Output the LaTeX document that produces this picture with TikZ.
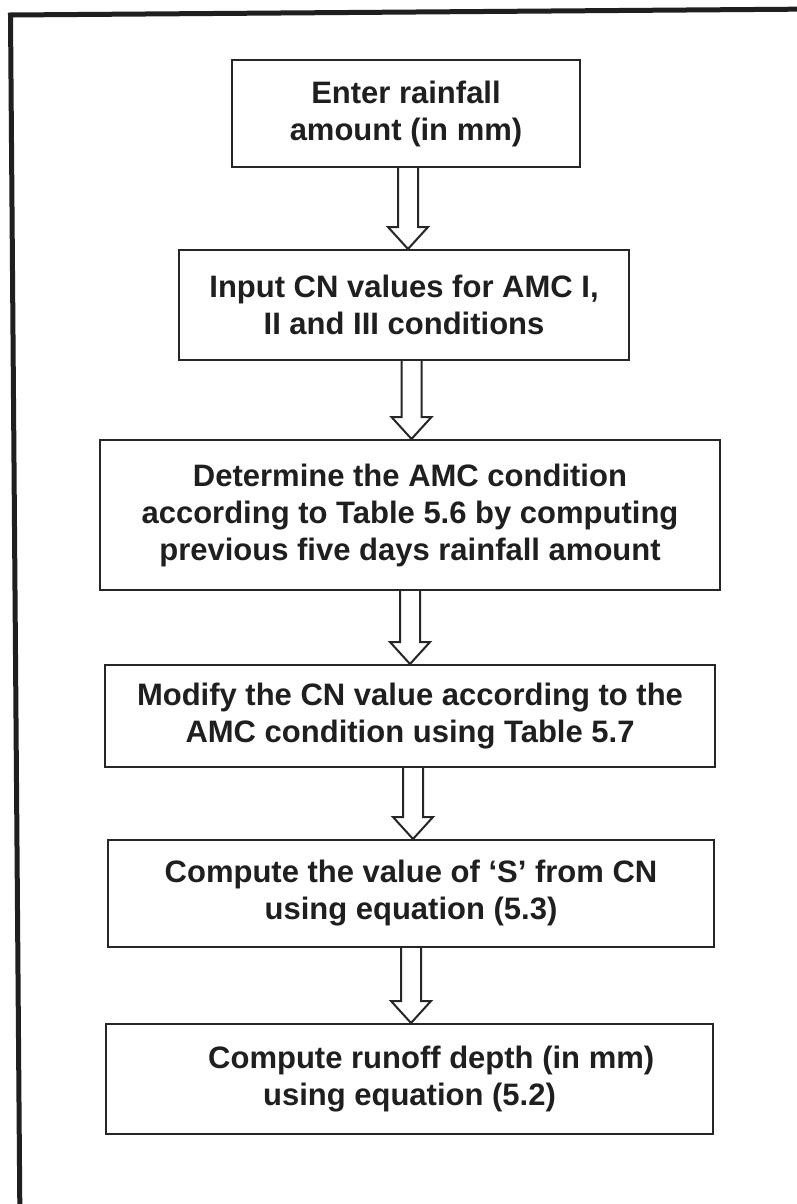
\documentclass[tikz,border=0pt]{standalone}
\usepackage{fontspec}
\setmainfont{Liberation Sans}
\usetikzlibrary{calc}
\tikzset{
  flowbox/.style={draw=black!85, line width=2pt, fill=white, align=center,
    inner sep=0pt, font=\bfseries\fontsize{31}{37}\selectfont, text=black!88},
  hollowarrow/.style={draw=black!85, line width=2pt, fill=white, line join=miter},
  framebox/.style={draw=black!88, line width=5pt},
}
% hollow block arrow from the bottom of #1 to the top of #2, shifted by #3 pt
\newcommand{\blockarrow}[3]{%
  \draw[hollowarrow] let \p1=(#1.south), \p2=(#2.north) in
    (\x1+#3pt-10pt,\y1) -- (\x1+#3pt-10pt,\y2+22pt) -- (\x1+#3pt-20pt,\y2+22pt)
    -- (\x1+#3pt,\y2) -- (\x1+#3pt+20pt,\y2+22pt) -- (\x1+#3pt+10pt,\y2+22pt)
    -- (\x1+#3pt+10pt,\y1);
}
\begin{document}
\begin{tikzpicture}[x=1pt,y=-1pt]
  \useasboundingbox (0,0) rectangle (797,1204);
  \clip (0,0) rectangle (797,1204);
  \fill[white] (0,0) rectangle (797,1204);
  % outer frame, its right and bottom sides lie past the page
  \draw[framebox] (822,9) -- (10.5,15) -- (20,1230);

  \node[flowbox, minimum width=348pt, minimum height=107pt] (b1) at (406,113.5)
    {Enter rainfall\\amount (in mm)};
  \node[flowbox, minimum width=450pt, minimum height=110pt] (b2) at (404,305)
    {Input CN values for AMC I,\\II and III conditions};
  \node[flowbox, minimum width=620pt, minimum height=150pt] (b3) at (410,515)
    {Determine the AMC condition\\according to Table 5.6 by computing\\previous five days rainfall amount};
  \node[flowbox, minimum width=610pt, minimum height=102pt] (b4) at (410,716)
    {Modify the CN value according to the\\AMC condition using Table 5.7};
  \node[flowbox, minimum width=606pt, minimum height=107pt] (b5) at (411,893.5)
    {Compute the value of ‘S’ from CN\\using equation (5.3)};
  \node[flowbox, minimum width=607pt, minimum height=110pt] (b6) at (409.5,1079)
    {\hspace*{1.4em}Compute runoff depth (in mm)\\using equation (5.2)};

  \blockarrow{b1}{b2}{2}
  \blockarrow{b2}{b3}{7.5}
  \blockarrow{b3}{b4}{0}
  \blockarrow{b4}{b5}{3}
  \blockarrow{b5}{b6}{0}
\end{tikzpicture}
\end{document}
